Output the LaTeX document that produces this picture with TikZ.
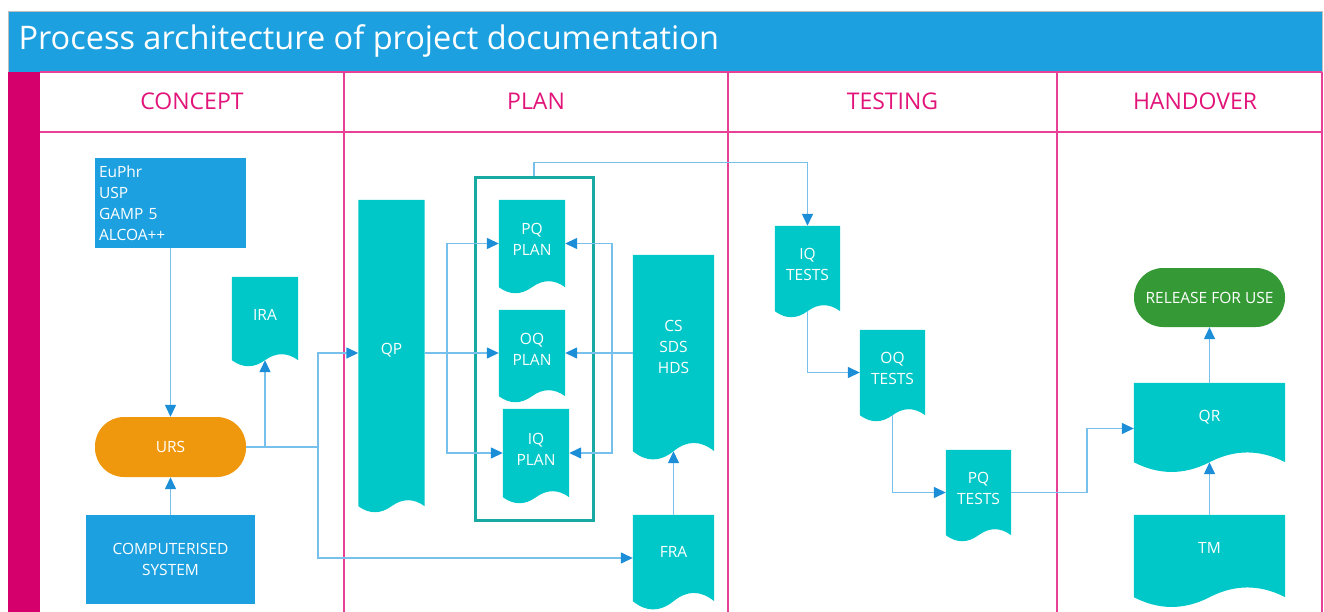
\documentclass[tikz,border=0pt]{standalone}
\usepackage{fontspec}
\setmainfont{Open Sans}
\usetikzlibrary{arrows.meta,calc}

\definecolor{titleblue}{RGB}{28,160,223}
\definecolor{lanepink}{RGB}{232,64,150}
\definecolor{stripmag}{RGB}{214,0,108}
\definecolor{headpink}{RGB}{226,20,122}
\definecolor{docteal}{RGB}{0,200,200}
\definecolor{groupteal}{RGB}{22,170,162}
\definecolor{ursorange}{RGB}{240,152,13}
\definecolor{relgreen}{RGB}{53,154,53}
\definecolor{linkblue}{RGB}{120,192,236}
\definecolor{tipblue}{RGB}{28,142,216}
\definecolor{framegray}{RGB}{190,190,190}

\pgfdeclarelayer{frame}
\pgfdeclarelayer{paper}
\pgfsetlayers{frame,paper,main}

% document (wavy bottom) fill behind a named node; #2 = wave control height
\newcommand\docpaper[2]{%
  \fill[docteal] (#1.north west) -- (#1.north east) -- (#1.south east)
    .. controls ($(#1.south east)!0.3333!(#1.south)+(0pt,#2pt)$)
       and ($(#1.south east)!0.6667!(#1.south)+(0pt,#2pt)$) .. (#1.south)
    .. controls ($(#1.south)!0.3333!(#1.south west)+(0pt,-#2pt)$)
       and ($(#1.south)!0.6667!(#1.south west)+(0pt,-#2pt)$) .. (#1.south west)
    -- cycle;}

\tikzset{
  every node/.style={font=\fontsize{15.5}{21}\selectfont, text=white},
  box/.style={rectangle, fill=titleblue, inner sep=0pt, align=center},
  doc/.style={rectangle, inner sep=0pt, align=center, text depth=8pt},
  term/.style={rectangle, rounded corners=29pt, inner sep=0pt, align=center},
  link/.style={draw=linkblue, line width=1.4pt},
  conn/.style={link, -{Triangle[length=12pt,width=11pt,color=tipblue]}},
  head/.style={text=headpink, font=\fontsize{23}{28}\selectfont},
}

\begin{document}
\begin{tikzpicture}[x=1pt,y=-1pt]
\useasboundingbox (0,0) rectangle (1324,612);

% ---------- frame, title bar and swimlanes ----------
\begin{pgfonlayer}{frame}
  \fill[white] (0,0) rectangle (1324,612);
  \fill[titleblue] (8,11) rectangle (1322,72);
  \draw[framegray, line width=0.8pt] (8,612) -- (8,11) -- (1322,11) -- (1322,72);
  \fill[stripmag] (8,72) rectangle (40,612);
  \draw[lanepink, line width=1.5pt] (40,72) -- (1322,72);
  \draw[lanepink, line width=1.5pt] (40,132) -- (1322,132);
  \foreach \lx in {344,728,1057,1322}
    \draw[lanepink, line width=1.5pt] (\lx,72) -- (\lx,612);
\end{pgfonlayer}

\node[anchor=west, font=\fontsize{32.5}{38}\selectfont] (title) at (15,41)
  {Process architecture of project documentation};

\node[head] (hconcept) at (192,101) {CONCEPT};
\node[head] (hplan) at (536,101) {PLAN};
\node[head] (htest) at (892.5,101) {TESTING};
\node[head] (hhand) at (1195,101) {HANDOVER};

% ---------- concept ----------
\node[box, minimum width=151, minimum height=90, text width=143, align=left]
  (std) at (170.5,203) {EuPhr\\USP\\GAMP 5\\ALCOA++};
\node[term, fill=ursorange, minimum width=151, minimum height=60] (urs) at (170.5,447) {URS};
\node[box, minimum width=169, minimum height=89] (comp) at (170.5,559.5) {COMPUTERISED\\SYSTEM};
\node[doc, minimum width=66, minimum height=83] (ira) at (265,318.5) {IRA};

% ---------- plan ----------
\node[doc, minimum width=66, minimum height=306] (qp) at (391.5,353) {QP};
\node[draw=groupteal, line width=3pt, minimum width=118, minimum height=342, inner sep=0pt]
  (grp) at (534,349) {};
\node[doc, minimum width=66, minimum height=87] (pqp) at (532,243.5) {PQ\\PLAN};
\node[doc, minimum width=66, minimum height=86] (oqp) at (532,353) {OQ\\PLAN};
\node[doc, minimum width=66, minimum height=88] (iqp) at (536,453) {IQ\\PLAN};
\node[doc, minimum width=81, minimum height=196, text depth=12pt] (cs) at (673.5,353) {CS\\SDS\\HDS};
\node[doc, minimum width=81, minimum height=86, text depth=12pt] (fra) at (673.5,558) {FRA};

% ---------- testing ----------
\node[doc, minimum width=65, minimum height=85] (iqt) at (807.5,268.5) {IQ\\TESTS};
\node[doc, minimum width=65, minimum height=85] (oqt) at (892.5,372.5) {OQ\\TESTS};
\node[doc, minimum width=65, minimum height=85] (pqt) at (978.5,492.5) {PQ\\TESTS};

% ---------- handover ----------
\node[term, fill=relgreen, minimum width=151, minimum height=59] (rel) at (1209.5,297.5) {RELEASE FOR USE};
\node[doc, minimum width=151, minimum height=79, text depth=13pt] (qr) at (1209.5,422.5) {QR};
\node[doc, minimum width=151, minimum height=82, text depth=16pt] (tm) at (1209.5,556) {TM};

% ---------- document shapes ----------
\begin{pgfonlayer}{paper}
  \docpaper{ira}{8}
  \docpaper{qp}{8}
  \docpaper{pqp}{8}
  \docpaper{oqp}{8}
  \docpaper{iqp}{8}
  \docpaper{cs}{11}
  \docpaper{fra}{11}
  \docpaper{iqt}{8}
  \docpaper{oqt}{8}
  \docpaper{pqt}{8}
  \docpaper{qr}{13}
  \docpaper{tm}{13}
\end{pgfonlayer}

% ---------- connectors ----------
\coordinate (jn) at (318,447);
\coordinate (bl) at (447,353);
\coordinate (br) at (612,353);
\coordinate (kq) at (1087,0);

\draw[conn] (std.south) -- (urs.north);
\draw[conn] (comp.north) -- (urs.south);
\draw[link] (urs.east) -- (jn);
\draw[conn] (ira.south |- urs.east) -- (ira.south);
\draw[conn] (jn) |- (qp.west);
\draw[conn] (jn) |- (fra.west);

\draw[conn] (qp.east) -- (oqp.west);
\draw[conn] (bl) |- (pqp.west);
\draw[conn] (bl) |- (iqp.west);
\draw[conn] (cs.west) -- (oqp.east);
\draw[conn] (br) |- (pqp.east);
\draw[conn] (br) |- (iqp.east);
\draw[conn] (fra.north) -- (cs.south);
\draw[conn] (grp.north) -- ++(0,-14) -| (iqt.north);

\draw[conn] (iqt.south) |- (oqt.west);
\draw[conn] (oqt.south) |- (pqt.west);
\draw[conn] (pqt.east) -| ([yshift=-6pt]kq |- qr.west) -- ([yshift=-6pt]qr.west);

\draw[conn] (tm.north) -- (qr.south);
\draw[conn] (qr.north) -- (rel.south);
\end{tikzpicture}
\end{document}
